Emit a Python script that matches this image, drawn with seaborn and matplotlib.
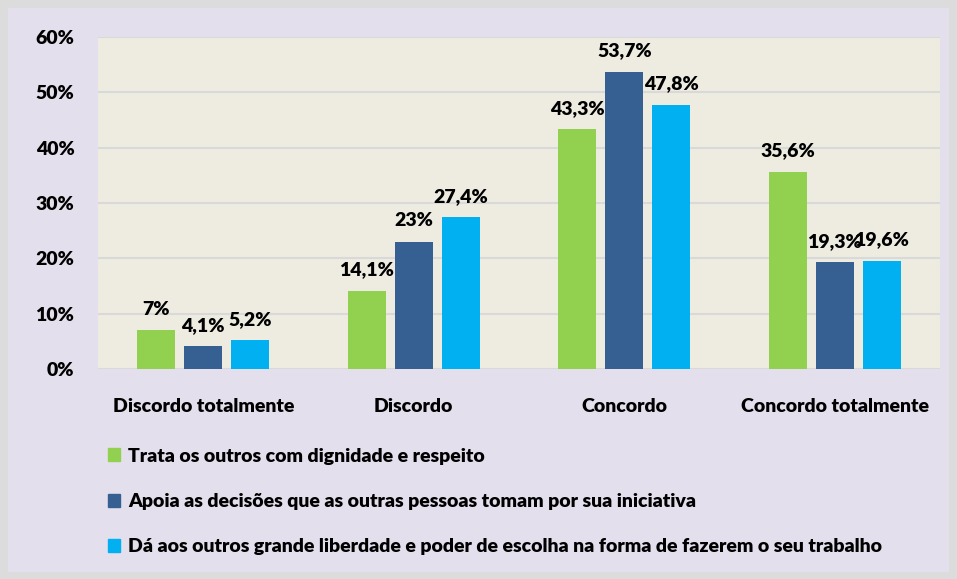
import matplotlib
matplotlib.use("Agg")
import matplotlib.pyplot as plt
import matplotlib.patches as mpatches
import pandas as pd
import seaborn as sns

categories = ["Discordo totalmente", "Discordo", "Concordo", "Concordo totalmente"]
series_names = [
    "Trata os outros com dignidade e respeito",
    "Apoia as decisões que as outras pessoas tomam por sua iniciativa",
    "Dá aos outros grande liberdade e poder de escolha na forma de fazerem o seu trabalho",
]
dignidade = [7.0, 14.1, 43.3, 35.6]
apoia = [4.1, 23.0, 53.7, 19.3]
liberdade = [5.2, 27.4, 47.8, 19.6]
colors = ["#92d050", "#376092", "#00b0f0"]

df = pd.DataFrame({
    "Categoria": categories * 3,
    "Serie": [series_names[0]] * 4 + [series_names[1]] * 4 + [series_names[2]] * 4,
    "Valor": dignidade + apoia + liberdade,
})

sns.set_style("white")
plt.rcParams["font.family"] = ["Lato", "DejaVu Sans"]
plt.rcParams["font.weight"] = "heavy"
plt.rcParams["text.color"] = "black"
plt.rcParams["xtick.color"] = "black"
plt.rcParams["ytick.color"] = "black"

fs = 14

fig = plt.figure(figsize=(9.57, 5.79), dpi=100)
fig.patch.set_facecolor("#dcdcdc")
fig.patches.append(mpatches.Rectangle((8 / 957, 7 / 579), 941 / 957, 564 / 579,
                                      transform=fig.transFigure, facecolor="#e4dfec",
                                      edgecolor="none", zorder=-10))
ax = fig.add_axes([98 / 957, 1 - 369 / 579, 842 / 957, 332 / 579])
ax.set_facecolor("#eeece1")

sns.barplot(data=df, x="Categoria", y="Valor", hue="Serie", palette=colors,
            width=0.67, gap=0.2, ax=ax, legend=False, saturation=1, linewidth=0)

for cont in ax.containers:
    ax.bar_label(cont, labels=[f"{v:g}%".replace(".", ",") for v in cont.datavalues],
                 padding=9, fontsize=fs, fontweight="heavy")

ax.set_ylim(0, 60)
ax.set_yticks(range(0, 61, 10))
ax.set_yticklabels([f"{v}%" for v in range(0, 61, 10)])
ax.yaxis.grid(True, color="#d9d9d9", linewidth=1.5)
ax.set_axisbelow(True)
ax.tick_params(axis="y", length=0, pad=17, labelsize=fs)
ax.tick_params(axis="x", length=0, pad=21, labelsize=fs)
ax.set_xlabel("")
ax.set_ylabel("")
for s in ax.spines.values():
    s.set_visible(False)

handles = [mpatches.Patch(color=c, label=n) for c, n in zip(colors, series_names)]
fig.legend(handles=handles, loc="upper left", bbox_to_anchor=(100 / 957, 1 - 440 / 579),
           frameon=False, fontsize=fs, handlelength=0.65, handleheight=0.65,
           handletextpad=0.4, labelspacing=1.45, borderaxespad=0)

fig.savefig("out.png", dpi=100, facecolor=fig.get_facecolor())
